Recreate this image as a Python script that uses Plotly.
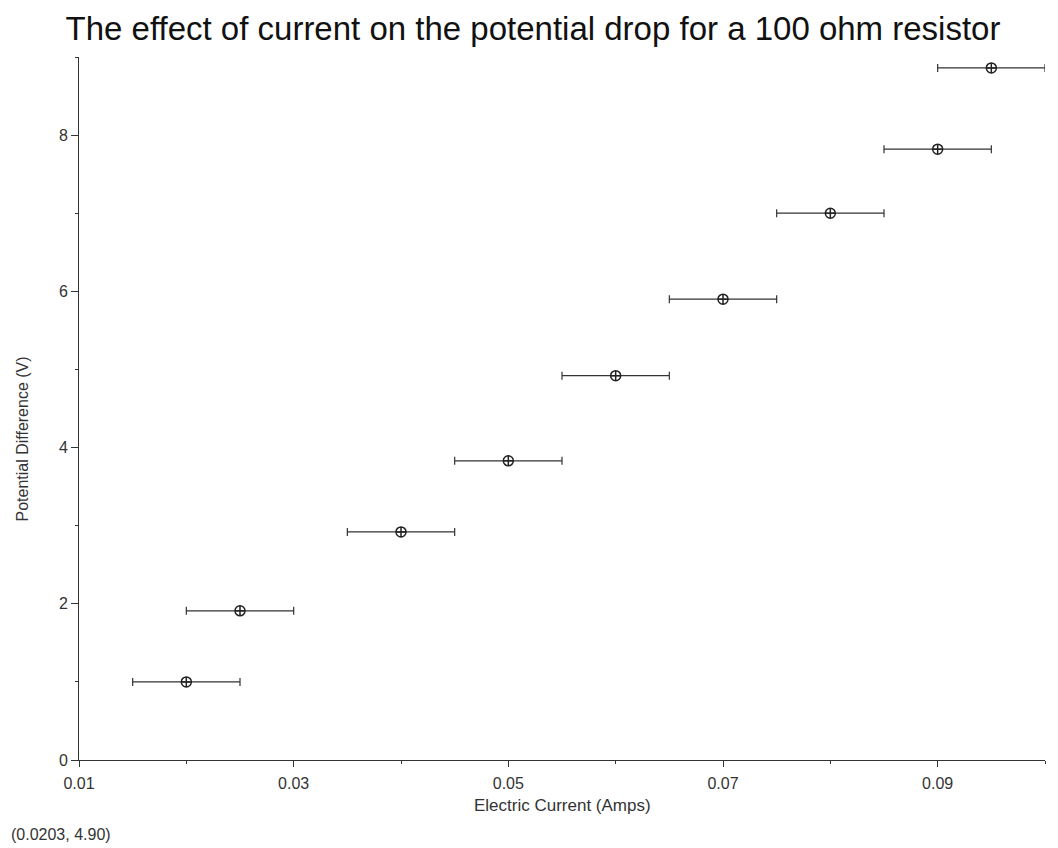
import plotly.graph_objects as go

current = [0.020, 0.025, 0.040, 0.050, 0.060, 0.070, 0.080, 0.090, 0.095]
voltage = [1.00, 1.91, 2.92, 3.83, 4.92, 5.90, 7.00, 7.82, 8.86]
current_err = [0.005] * 9
x_ticks = [0.01, 0.03, 0.05, 0.07, 0.09]
x_tick_labels = ["0.01", "0.03", "0.05", "0.07", "0.09"]
y_ticks = [0, 2, 4, 6, 8]

fig = go.Figure()
fig.add_trace(go.Scatter(
    x=current, y=voltage, mode="markers",
    marker=dict(symbol="circle-cross-open", size=10, color="#222",
                line=dict(width=1.5, color="#222")),
    error_x=dict(type="data", array=current_err, visible=True,
                 color="#333", thickness=1.2, width=4),
    showlegend=False, cliponaxis=False,
))

font = "Liberation Sans, Arial, sans-serif"
fig.update_layout(
    width=1050, height=840,
    paper_bgcolor="white", plot_bgcolor="white",
    margin=dict(l=71, r=13, t=49, b=88),
    title=dict(text="The effect of current on the potential drop for a 100 ohm resistor",
               x=0.5, xanchor="center", y=0.976, yanchor="middle",
               font=dict(family=font, size=33, color="#111")),
    font=dict(family=font, color="#222"),
    xaxis=dict(range=[0.01, 0.1], tickvals=x_ticks, ticktext=x_tick_labels,
               automargin=False,
               showgrid=False, zeroline=False, showline=True, linecolor="#333",
               linewidth=1, ticks="outside", ticklen=6, tickcolor="#333",
               tickfont=dict(size=16, color="#333"), ticklabelstandoff=3,
               minor=dict(dtick=0.01, tick0=0.0, ticks="outside", ticklen=3, tickcolor="#333")),
    yaxis=dict(range=[0, 9.0], tickvals=y_ticks, automargin=False,
               showgrid=False, zeroline=False, showline=True, linecolor="#333",
               linewidth=1, ticks="outside", ticklen=7, tickcolor="#333",
               tickfont=dict(size=16, color="#333"),
               minor=dict(dtick=1, ticks="outside", ticklen=3, tickcolor="#333")),
    annotations=[
        dict(text="Potential Difference (V)", xref="paper", yref="paper",
             x=-0.0589, y=0.456, xanchor="center", yanchor="middle", textangle=-90,
             showarrow=False, font=dict(size=16, color="#333")),
        dict(text="Electric Current (Amps)", xref="paper", yref="paper",
             x=0.5, y=-0.065, xanchor="center", yanchor="middle",
             showarrow=False, font=dict(size=17, color="#333")),
        dict(text="(0.0203, 4.90)", xref="paper", yref="paper",
             x=-0.072, y=-0.106, xanchor="left", yanchor="middle",
             showarrow=False, font=dict(size=16, color="#333")),
    ],
)

fig.write_html("out.html")
